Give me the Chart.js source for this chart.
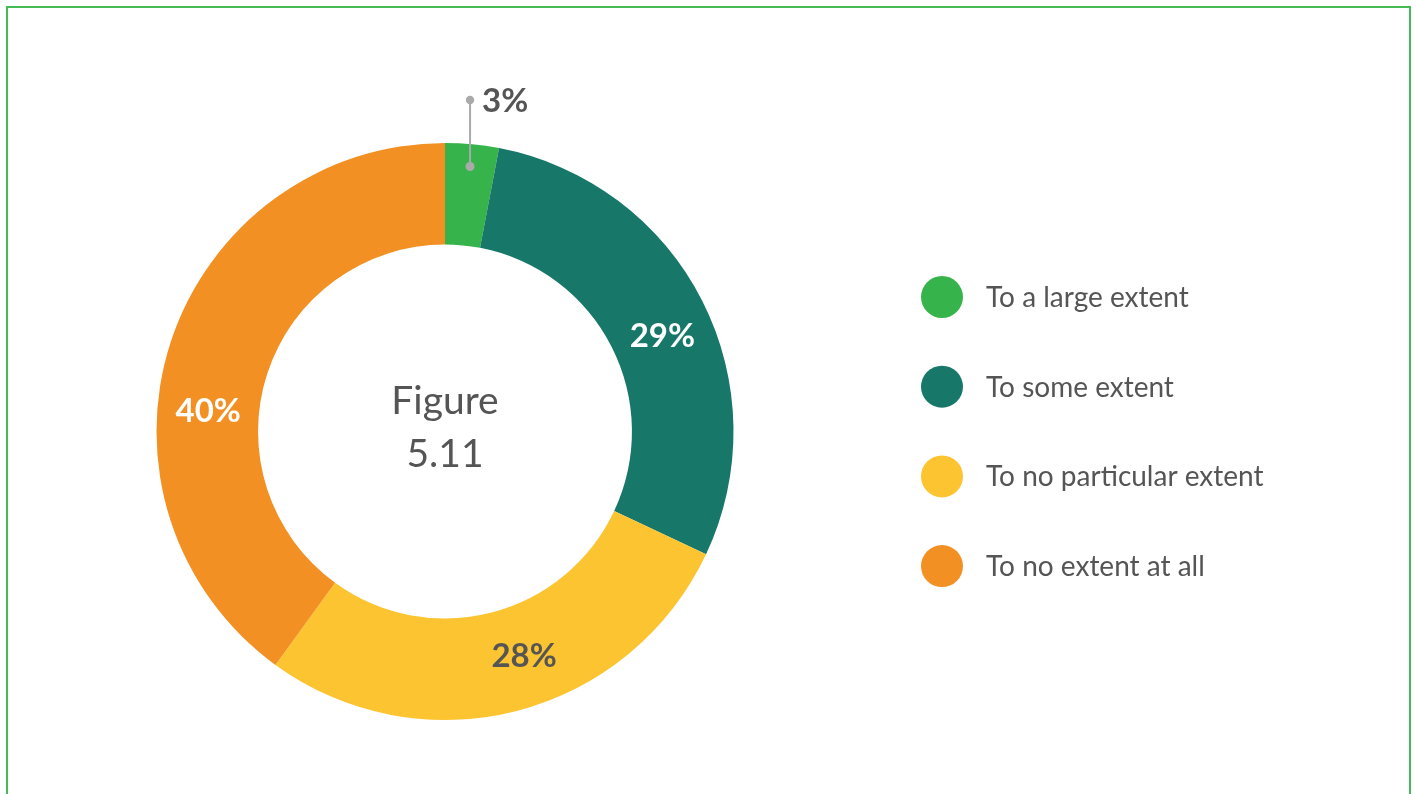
<!DOCTYPE html>
<html>
<head>
<meta charset="utf-8">
<script src="https://cdn.jsdelivr.net/npm/chart.js@4"></script>
<style>
html,body{margin:0;padding:0;background:#fff;}
#wrap{position:relative;width:1416px;height:794px;}
canvas{display:block;}
</style>
</head>
<body>
<div id="wrap"><canvas id="c" width="1416" height="794"></canvas></div>
<script>
const categories = ["To a large extent", "To some extent", "To no particular extent", "To no extent at all"];
const values = [3, 29, 28, 40];
const valueLabels = ["3%", "29%", "28%", "40%"];
const centerLines = ["Figure", "5.11"];

const colors = ["#36b34a", "#17786a", "#fcc431", "#f39024"];
const labelColors = ["#555555", "#ffffff", "#555555", "#ffffff"];
const FONT = "Lato, 'Open Sans', sans-serif";

const decor = {
  id: 'decor',
  beforeDraw(chart) {
    const ctx = chart.ctx;
    ctx.save();
    ctx.fillStyle = '#fff';
    ctx.fillRect(0, 0, chart.width, chart.height);
    ctx.strokeStyle = '#44bb55';
    ctx.lineWidth = 2;
    ctx.strokeRect(7, 7, 1403, 820);
    ctx.restore();
  },
  afterDatasetsDraw(chart, args, opts) {
    const ctx = chart.ctx;
    const meta = chart.getDatasetMeta(0);
    ctx.save();
    // centre text
    const c = meta.data[0];
    ctx.fillStyle = '#555555';
    ctx.font = "39px " + FONT;
    ctx.textAlign = 'center';
    ctx.textBaseline = 'middle';
    ctx.fillText(centerLines[0], c.x, c.y - 30);
    ctx.fillText(centerLines[1], c.x, c.y + 23);

    // value labels
    ctx.font = "bold 33px " + FONT;
    meta.data.forEach((arc, i) => {
      const p = arc.getProps(['x','y','startAngle','endAngle','innerRadius','outerRadius'], true);
      if (i === 0) {
        const a = (p.startAngle + p.endAngle) / 2;
        const r0 = p.innerRadius + (p.outerRadius - p.innerRadius) * 0.78;
        const x0 = p.x + Math.cos(a) * r0;
        const y0 = p.y + Math.sin(a) * r0;
        const y1 = p.y - p.outerRadius - 43;
        ctx.strokeStyle = '#aaaaaa';
        ctx.fillStyle = '#aaaaaa';
        ctx.lineWidth = 2;
        ctx.beginPath(); ctx.moveTo(x0, y0); ctx.lineTo(x0, y1); ctx.stroke();
        ctx.beginPath(); ctx.arc(x0, y0, 4.5, 0, Math.PI*2); ctx.fill();
        ctx.beginPath(); ctx.arc(x0, y1, 4.2, 0, Math.PI*2); ctx.fill();
        ctx.fillStyle = labelColors[i];
        ctx.textAlign = 'left';
        ctx.fillText(valueLabels[i], x0 + 12, y1 + 1);
        ctx.textAlign = 'center';
        return;
      }
      const f = opts.anchor[i];
      const a = p.startAngle + (p.endAngle - p.startAngle) * f;
      const r = (p.innerRadius + p.outerRadius) / 2;
      ctx.fillStyle = labelColors[i];
      ctx.fillText(valueLabels[i], p.x + Math.cos(a) * r, p.y + Math.sin(a) * r + 1);
    });

    // legend
    ctx.textAlign = 'left';
    ctx.font = "28px " + FONT;
    categories.forEach((cat, i) => {
      const y = opts.legendTop + i * opts.legendGap;
      ctx.fillStyle = colors[i];
      ctx.beginPath(); ctx.arc(opts.legendX, y, 21, 0, Math.PI*2); ctx.fill();
      ctx.fillStyle = '#555555';
      ctx.fillText(cat, opts.legendX + 44, y + 1);
    });
    ctx.restore();
  }
};

new Chart(document.getElementById('c'), {
  type: 'doughnut',
  data: {
    labels: categories,
    datasets: [{
      data: values,
      backgroundColor: colors,
      borderWidth: 0,
      hoverOffset: 0
    }]
  },
  options: {
    responsive: false,
    animation: false,
    cutout: '64.8%',
    layout: { padding: { left: 156.5, right: 682.5, top: 143, bottom: 74 } },
    plugins: {
      legend: { display: false },
      tooltip: { enabled: false },
      decor: { anchor: [0.5, 0.53, 0.45, 0.41], legendX: 942, legendTop: 297, legendGap: 89.7 }
    }
  },
  plugins: [decor]
});
</script>
</body>
</html>
